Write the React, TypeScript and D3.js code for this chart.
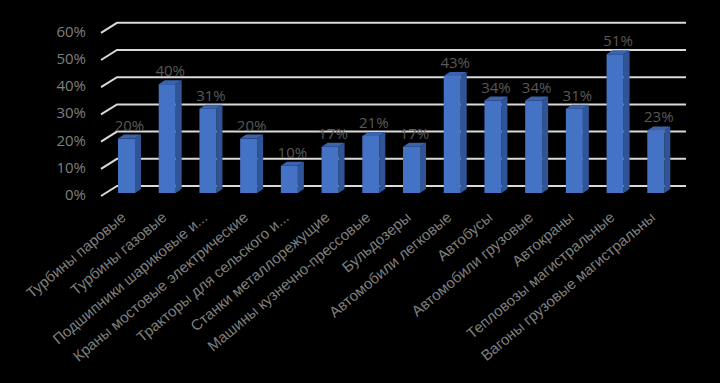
import React from "react";
import * as d3 from "d3";

const categories = [
  "Турбины паровые",
  "Турбины газовые",
  "Подшипники шариковые и...",
  "Краны мостовые электрические",
  "Тракторы для сельского и...",
  "Станки металлорежущие",
  "Машины кузнечно-прессовые",
  "Бульдозеры",
  "Автомобили легковые",
  "Автобусы",
  "Автомобили грузовые",
  "Автокраны",
  "Тепловозы магистральные",
  "Вагоны грузовые магистральны",
];
const values = [20, 40, 31, 20, 10, 17, 21, 17, 43, 34, 34, 31, 51, 23];
const ticks = [0, 10, 20, 30, 40, 50, 60];

const W = 720;
const H = 383;
const BASE = 193;
const BAR_W = 17;
const DX = 6;
const DY = 4;

export default function App() {
  const x = d3.scaleBand<string>().domain(categories).range([101, 671]).padding(0);
  const y = d3.scaleLinear().domain([0, 60]).range([BASE, BASE - 163.2]);
  const fmt = (v: number) => `${v}%`;

  return (
    <div style={{ position: "absolute", left: 0, top: 0 }}>
      <svg width={W} height={H} style={{ display: "block" }}>
        <rect x={0} y={0} width={W} height={H} fill="#000" />
        {ticks.map((t) => {
          const yb = y(t) - 7;
          const yf = y(t) + 3;
          return (
            <g key={t}>
              <polyline
                points={`101,${yf} 117,${yb} 686,${yb}`}
                fill="none"
                stroke="#d9d9d9"
                strokeWidth={2}
              />
              <text
                x={86}
                y={yf}
                textAnchor="end"
                dominantBaseline="middle"
                fill="#7f7f7f"
                fontFamily="'Open Sans', 'DejaVu Sans', sans-serif"
                fontSize={15}
              >
                {fmt(t)}
              </text>
            </g>
          );
        })}
        {categories.map((c, i) => {
          const v = values[i];
          const x0 = (x(c) as number) + 17;
          const yt = y(v);
          return (
            <g key={c}>
              <polygon
                points={`${x0 + BAR_W},${yt} ${x0 + BAR_W + DX},${yt - DY} ${x0 + BAR_W + DX},${BASE - DY} ${x0 + BAR_W},${BASE}`}
                fill="#2f5597"
              />
              <polygon
                points={`${x0},${yt} ${x0 + DX},${yt - DY} ${x0 + BAR_W + DX},${yt - DY} ${x0 + BAR_W},${yt}`}
                fill="#3a62ad"
              />
              <rect x={x0} y={yt} width={BAR_W} height={BASE - yt} fill="#4472c4" />
              <text
                x={x0 + (BAR_W + DX) / 2}
                y={yt - 8}
                textAnchor="middle"
                fill="#595959"
                fontFamily="'Open Sans', 'DejaVu Sans', sans-serif"
                fontSize={15}
              >
                {fmt(v)}
              </text>
              <text
                transform={`translate(${x0 + 9},${219}) rotate(-40)`}
                textAnchor="end"
                fill="#7f7f7f"
                fontFamily="'Liberation Sans', Arial, sans-serif"
                fontSize={15}
              >
                {c}
              </text>
            </g>
          );
        })}
      </svg>
    </div>
  );
}
